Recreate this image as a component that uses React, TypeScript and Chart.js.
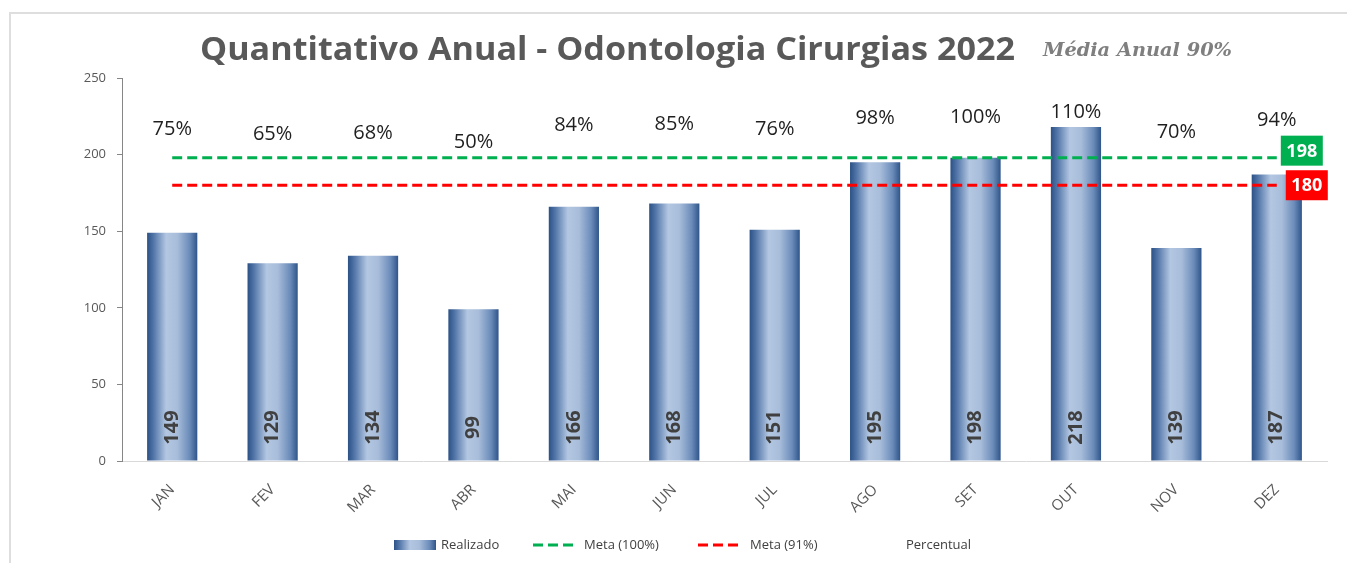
import React, { useEffect, useRef } from "react";
import { Chart, registerables } from "chart.js";

Chart.register(...registerables);

const months = ["JAN", "FEV", "MAR", "ABR", "MAI", "JUN", "JUL", "AGO", "SET", "OUT", "NOV", "DEZ"];
const realizado = [149, 129, 134, 99, 166, 168, 151, 195, 198, 218, 139, 187];
const meta100 = [198, 198, 198, 198, 198, 198, 198, 198, 198, 198, 198, 198];
const meta91 = [180, 180, 180, 180, 180, 180, 180, 180, 180, 180, 180, 180];
const percentual = [75, 65, 68, 50, 84, 85, 76, 98, 100, 110, 70, 94];
const yMin = 0;
const yMax = 250;
const yStep = 50;
const titleText = "Quantitativo Anual - Odontologia Cirurgias 2022";
const subtitleText = "Média Anual 90%";
const legendNames = ["Realizado", "Meta (100%)", "Meta (91%)", "Percentual"];

const GREEN = "#00B050";
const RED = "#FF0000";

function barGradient(c: CanvasRenderingContext2D, x0: number, x1: number) {
  const g = c.createLinearGradient(x0, 0, x1, 0);
  g.addColorStop(0, "#2C5186");
  g.addColorStop(0.12, "#4F73A6");
  g.addColorStop(0.38, "#B3C7E2");
  g.addColorStop(0.6, "#A8BDDA");
  g.addColorStop(0.85, "#6A8BB9");
  g.addColorStop(1, "#2F5589");
  return g;
}

function fitText(c: CanvasRenderingContext2D, text: string, x: number, y: number, width: number) {
  const w = c.measureText(text).width;
  c.save();
  c.translate(x, y);
  c.scale(width / w, 1);
  c.textAlign = "left";
  c.textBaseline = "alphabetic";
  c.fillText(text, 0, 0);
  c.restore();
}

const decorPlugin = {
  id: "decor",
  afterDatasetsDraw(chart: any) {
    const c: CanvasRenderingContext2D = chart.ctx;
    // values inside bars
    const barMeta = chart.getDatasetMeta(0);
    c.save();
    c.fillStyle = "#404040";
    c.font = "bold 20px 'Open Sans'";
    c.textAlign = "center";
    c.textBaseline = "middle";
    barMeta.data.forEach((bar: any, i: number) => {
      const p = bar.getProps(["x", "base"], true);
      c.save();
      c.translate(p.x, p.base - 33);
      c.rotate(-Math.PI / 2);
      c.fillText(String(realizado[i]), 0, 0);
      c.restore();
    });
    c.restore();

    // percent labels
    const pMeta = chart.getDatasetMeta(3);
    c.save();
    c.fillStyle = "#1F1F1F";
    c.font = "20px 'Open Sans'";
    c.textAlign = "center";
    c.textBaseline = "middle";
    pMeta.data.forEach((pt: any, i: number) => {
      const p = pt.getProps(["x", "y"], true);
      c.fillText(percentual[i] + "%", p.x, p.y);
    });
    c.restore();

    // end labels for meta lines
    const ends = [
      { ds: 1, color: GREEN, value: meta100[meta100.length - 1], dx: 4, dy: -7 },
      { ds: 2, color: RED, value: meta91[meta91.length - 1], dx: 9, dy: 0 },
    ];
    ends.forEach((e) => {
      const m = chart.getDatasetMeta(e.ds);
      const last = m.data[m.data.length - 1];
      const p = last.getProps(["x", "y"], true);
      const bw = 42;
      const bh = 30;
      const bx = p.x + e.dx;
      const by = p.y + e.dy - bh / 2;
      c.save();
      c.fillStyle = e.color;
      c.fillRect(bx, by, bw, bh);
      c.fillStyle = "#FFFFFF";
      c.font = "bold 18px 'Open Sans'";
      c.textAlign = "center";
      c.textBaseline = "middle";
      c.fillText(String(e.value), bx + bw / 2, by + bh / 2 + 1);
      c.restore();
    });
  },
  afterDraw(chart: any) {
    const c: CanvasRenderingContext2D = chart.ctx;
    // title
    c.save();
    c.fillStyle = "#595959";
    c.font = "bold 32px 'Open Sans'";
    fitText(c, titleText, 200, 60, 815);
    c.fillStyle = "#7F7F7F";
    c.font = "italic bold 19px 'DejaVu Serif'";
    fitText(c, subtitleText, 1043, 56, 189);
    c.restore();

    // legend
    const ly = 545;
    c.save();
    c.fillStyle = barGradient(c, 394, 436);
    c.fillRect(394, ly - 5, 42, 10);
    c.font = "13px 'Open Sans'";
    c.fillStyle = "#404040";
    c.textAlign = "left";
    c.textBaseline = "middle";
    c.fillText(legendNames[0], 441, ly);

    c.lineWidth = 3;
    c.setLineDash([10, 5]);
    c.strokeStyle = GREEN;
    c.beginPath();
    c.moveTo(533, ly);
    c.lineTo(574, ly);
    c.stroke();
    c.fillText(legendNames[1], 584, ly);

    c.strokeStyle = RED;
    c.beginPath();
    c.moveTo(698, ly);
    c.lineTo(740, ly);
    c.stroke();
    c.fillText(legendNames[2], 750, ly);

    c.fillText(legendNames[3], 906, ly);
    c.restore();
  },
};

export default function App() {
  const ref = useRef<HTMLCanvasElement | null>(null);

  useEffect(() => {
    if (!ref.current) return;
    const chart = new Chart(ref.current, {
      type: "bar",
      data: {
        labels: months,
        datasets: [
          {
            label: legendNames[0],
            data: realizado,
            backgroundColor: (ctx: any) => {
              const ch = ctx.chart;
              const xs = ch.scales && ch.scales.x;
              if (!xs || ctx.dataIndex == null || !ch.chartArea) return "#7F9CC6";
              const cx = xs.getPixelForValue(ctx.dataIndex);
              const w = (xs.width / months.length) * 0.5;
              return barGradient(ch.ctx, cx - w / 2, cx + w / 2);
            },
            borderWidth: 0,
            barPercentage: 0.5,
            categoryPercentage: 1,
            order: 3,
          } as any,
          {
            type: "line",
            label: legendNames[1],
            data: meta100,
            borderColor: GREEN,
            borderWidth: 3,
            borderDash: [10, 5],
            pointRadius: 0,
            fill: false,
            order: 1,
          } as any,
          {
            type: "line",
            label: legendNames[2],
            data: meta91,
            borderColor: RED,
            borderWidth: 3,
            borderDash: [10, 5],
            pointRadius: 0,
            fill: false,
            order: 2,
          } as any,
          {
            type: "line",
            label: legendNames[3],
            data: percentual,
            yAxisID: "y2",
            showLine: false,
            pointRadius: 0,
            borderColor: "rgba(0,0,0,0)",
            order: 0,
          } as any,
        ],
      },
      options: {
        responsive: false,
        animation: false,
        layout: { padding: { top: 78, right: 20, left: 0, bottom: 0 } },
        plugins: {
          legend: { display: false },
          title: { display: false },
          tooltip: { enabled: false },
        },
        scales: {
          x: {
            grid: { display: false, drawTicks: false },
            border: { display: true, color: "#D9D9D9", width: 1 },
            ticks: {
              color: "#595959",
              font: { family: "'Open Sans'", size: 15 },
              minRotation: 45,
              maxRotation: 45,
              padding: 20,
            },
            afterFit: (s: any) => {
              s.height = 102;
            },
          },
          y: {
            min: yMin,
            max: yMax,
            grid: {
              display: true,
              drawOnChartArea: false,
              drawTicks: true,
              tickLength: 5,
              color: "#868686",
            },
            border: { display: true, color: "#868686", width: 1 },
            ticks: {
              stepSize: yStep,
              color: "#595959",
              font: { family: "'Open Sans'", size: 13 },
              padding: 11,
            },
            afterFit: (s: any) => {
              s.width = 122;
            },
          },
          y2: {
            display: false,
            min: -600,
            max: 180,
          },
        },
      } as any,
      plugins: [decorPlugin],
    });
    return () => chart.destroy();
  }, []);

  return (
    <div
      style={{
        position: "fixed",
        left: 0,
        top: 0,
        width: 1347,
        height: 563,
        overflow: "hidden",
        background: "#FFFFFF",
      }}
    >
      <div
        style={{
          position: "absolute",
          left: 9,
          top: 12,
          width: 1345,
          height: 600,
          border: "2px solid #DEDEDE",
          boxSizing: "border-box",
        }}
      />
      <canvas
        ref={ref}
        width={1347}
        height={563}
        style={{ position: "absolute", left: 0, top: 0, width: 1347, height: 563 }}
      />
    </div>
  );
}
